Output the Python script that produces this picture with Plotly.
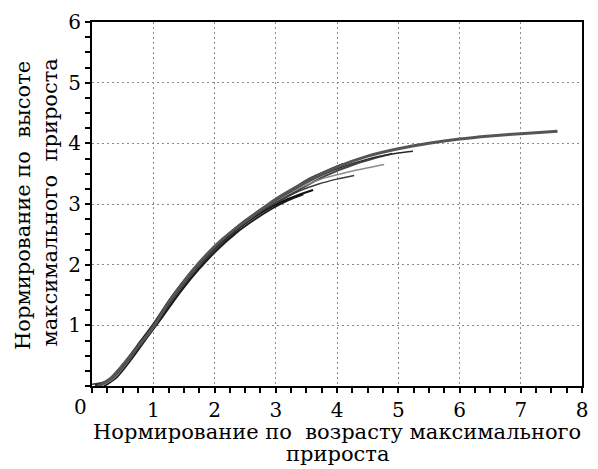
import plotly.graph_objects as go

# --- data ---
c1_x = [0.1, 0.3, 0.5, 0.75, 1.0, 1.25, 1.5, 1.75, 2.0, 2.25, 2.5, 2.75, 3.0, 3.5, 4.0, 4.5, 5.0, 5.5, 6.0, 6.5, 7.0, 7.6]
c1_y = [0.0, 0.12, 0.34, 0.65, 0.97, 1.38, 1.72, 2.03, 2.30, 2.52, 2.71, 2.90, 3.08, 3.37, 3.61, 3.79, 3.91, 4.00, 4.07, 4.12, 4.16, 4.20]

c2_x = [0.05, 0.3, 0.5, 0.75, 1.0, 1.25, 1.5, 1.75, 2.0, 2.25, 2.5, 2.75, 3.0, 3.5, 4.0, 4.5, 5.0, 5.24]
c2_y = [0.02, 0.10, 0.31, 0.62, 0.94, 1.34, 1.69, 2.00, 2.27, 2.50, 2.70, 2.89, 3.06, 3.35, 3.58, 3.74, 3.84, 3.87]

c3_x = [0.15, 0.35, 0.6, 0.85, 1.1, 1.4, 1.7, 2.0, 2.3, 2.6, 3.0, 3.4, 3.8, 4.2, 4.77]
c3_y = [0.0, 0.12, 0.42, 0.77, 1.12, 1.55, 1.94, 2.28, 2.55, 2.79, 3.05, 3.27, 3.43, 3.53, 3.65]

c4_x = [0.0, 0.25, 0.5, 0.75, 1.0, 1.3, 1.6, 1.9, 2.2, 2.5, 2.8, 3.1, 3.4, 3.7, 4.0, 4.28]
c4_y = [0.03, 0.09, 0.33, 0.66, 1.00, 1.44, 1.83, 2.17, 2.45, 2.69, 2.90, 3.07, 3.22, 3.33, 3.41, 3.47]

c5_x = [0.1, 0.3, 0.55, 0.8, 1.05, 1.3, 1.6, 1.9, 2.2, 2.5, 2.8, 3.1, 3.35, 3.61]
c5_y = [0.0, 0.11, 0.40, 0.74, 1.06, 1.45, 1.85, 2.18, 2.45, 2.68, 2.88, 3.04, 3.14, 3.23]

c6_x = [0.2, 0.4, 0.65, 0.9, 1.15, 1.45, 1.75, 2.05, 2.35, 2.65, 2.95, 3.2, 3.45]
c6_y = [0.0, 0.14, 0.45, 0.80, 1.14, 1.56, 1.93, 2.25, 2.52, 2.74, 2.93, 3.06, 3.16]

c7_x = [0.05, 0.25, 0.5, 0.75, 1.0, 1.3, 1.6, 1.9, 2.2, 2.5, 2.8, 3.1, 3.5, 4.1]
c7_y = [0.01, 0.08, 0.35, 0.68, 1.02, 1.47, 1.86, 2.20, 2.48, 2.73, 2.94, 3.12, 3.39, 3.66]

c8_x = [0.12, 0.35, 0.6, 0.85, 1.1, 1.4, 1.7, 2.0, 2.3, 2.6, 2.9, 3.3, 3.8, 4.3, 4.9]
c8_y = [0.0, 0.13, 0.43, 0.76, 1.09, 1.52, 1.90, 2.24, 2.52, 2.76, 2.96, 3.19, 3.46, 3.66, 3.83]

curves = [
    (c8_x, c8_y, "#444444", 2.0),
    (c7_x, c7_y, "#333333", 2.0),
    (c6_x, c6_y, "#1a1a1a", 2.0),
    (c5_x, c5_y, "#111111", 2.0),
    (c4_x, c4_y, "#3a3a3a", 1.5),
    (c3_x, c3_y, "#8c8c8c", 1.5),
    (c2_x, c2_y, "#2a2a2a", 1.5),
    (c1_x, c1_y, "#555555", 3.0),
]

x_ticks = [1, 2, 3, 4, 5, 6, 7, 8]
y_ticks = [1, 2, 3, 4, 5, 6]

FONT = "DejaVu Serif"

fig = go.Figure()
for xs, ys, col, w in curves:
    fig.add_trace(go.Scatter(x=xs, y=ys, mode="lines",
                             line=dict(color=col, width=w, shape="spline", smoothing=0.8),
                             showlegend=False, hoverinfo="skip"))

axis_common = dict(
    showline=True, linecolor="black", linewidth=2, mirror=True,
    ticks="outside", ticklen=5, tickwidth=2, tickcolor="black",
    showgrid=True, gridcolor="#8a8a8a", griddash="2px,3px", gridwidth=1,
    zeroline=False,
    tickfont=dict(family=FONT, size=20, color="black"),
    minor=dict(dtick=0.25, ticks="outside", ticklen=5, tickwidth=2, tickcolor="black", showgrid=False),
)

fig.update_xaxes(range=[0, 8], tickvals=x_ticks, ticktext=[str(v) for v in x_ticks], **axis_common)
fig.update_yaxes(range=[0, 6], tickvals=y_ticks, ticktext=[str(v) for v in y_ticks], **axis_common)

fig.update_layout(
    width=598, height=469,
    margin=dict(l=92, r=10, t=22, b=83),
    plot_bgcolor="white", paper_bgcolor="white",
    font=dict(family=FONT, color="black"),
    annotations=[
        dict(text="0", xref="paper", yref="paper", x=-0.024, y=-0.058,
             showarrow=False, font=dict(family=FONT, size=20), xanchor="center", yanchor="middle"),
        dict(text="Нормирование по\u00a0 возрасту максимального", xref="paper", yref="paper",
             x=0.50, y=-0.127, showarrow=False, font=dict(family=FONT, size=21),
             xanchor="center", yanchor="middle"),
        dict(text="прироста", xref="paper", yref="paper",
             x=0.50, y=-0.187, showarrow=False, font=dict(family=FONT, size=21),
             xanchor="center", yanchor="middle"),
        dict(text="Нормирование по\u00a0 высоте", xref="paper", yref="paper",
             x=-0.141, y=0.497, showarrow=False, textangle=-90,
             font=dict(family=FONT, size=21), xanchor="center", yanchor="middle"),
        dict(text="максимального\u00a0 прироста", xref="paper", yref="paper",
             x=-0.085, y=0.505, showarrow=False, textangle=-90,
             font=dict(family=FONT, size=21), xanchor="center", yanchor="middle"),
    ],
)

fig.write_html("out.html")
